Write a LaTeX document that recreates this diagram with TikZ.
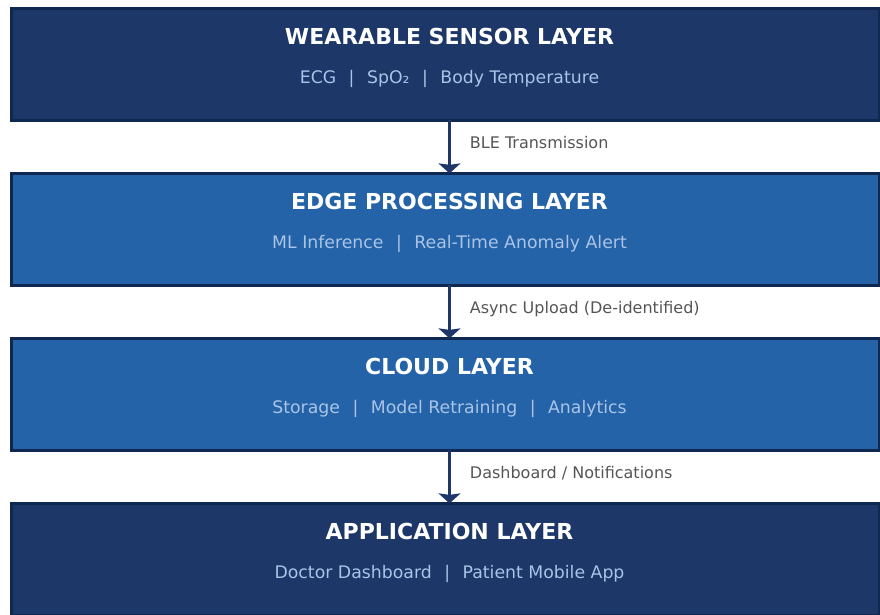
\documentclass[tikz,border=0pt]{standalone}
\usepackage{fontspec}
\setmainfont{DejaVu Sans}
\usetikzlibrary{arrows.meta,positioning}
\definecolor{navy}{HTML}{1C3768}
\definecolor{midblue}{HTML}{2563A8}
\definecolor{rim}{HTML}{10284F}
\definecolor{subtxt}{HTML}{A9C4E6}
\definecolor{lbltxt}{HTML}{555555}
\tikzset{
  layer/.style={draw=rim,line width=2.4pt,rectangle,minimum width=868pt,minimum height=112pt,outer sep=0pt,inner sep=0pt},
  ltitle/.style={anchor=base,text=white,font=\fontsize{22}{26}\selectfont\bfseries},
  lsub/.style={anchor=base,text=subtxt,font=\fontsize{17.3}{20}\selectfont},
  flow/.style={-{Stealth[length=10pt,width=22pt,inset=1.5pt]},line width=2.2pt,draw=navy},
  tag/.style={anchor=base west,text=lbltxt,font=\fontsize{16}{19}\selectfont,xshift=16pt,yshift=-1.5pt}
}
\newcommand{\lsep}{\hspace{12.5pt}|\hspace{12.5pt}}

\begin{document}
\begin{tikzpicture}[x=1pt,y=-1pt]
\useasboundingbox (0,0) rectangle (880,614);
\coordinate (axis) at (449.5,0);

\node[layer,fill=navy] (sens) at (445.5,64.35) {};
\node[layer,fill=midblue,below=53pt of sens] (edge) {};
\node[layer,fill=midblue,below=53pt of edge] (cloud) {};
\node[layer,fill=navy,below=53pt of cloud] (app) {};

\node[ltitle] (sens-t) at ([yshift=20.3pt]sens.center -| axis) {WEARABLE SENSOR LAYER};
\node[lsub] (sens-s) at ([yshift=-19pt]sens.center -| axis) {ECG\lsep SpO₂\lsep Body Temperature};

\node[ltitle] (edge-t) at ([yshift=20.3pt]edge.center -| axis) {EDGE PROCESSING LAYER};
\node[lsub] (edge-s) at ([yshift=-19pt]edge.center -| axis) {ML Inference\lsep Real-Time Anomaly Alert};

\node[ltitle] (cloud-t) at ([yshift=20.3pt]cloud.center -| axis) {CLOUD LAYER};
\node[lsub] (cloud-s) at ([yshift=-19pt]cloud.center -| axis) {Storage\lsep Model Retraining\lsep Analytics};

\node[ltitle] (app-t) at ([yshift=20.3pt]app.center -| axis) {APPLICATION LAYER};
\node[lsub] (app-s) at ([yshift=-19pt]app.center -| axis) {Doctor Dashboard\lsep Patient Mobile App};

\draw[flow] (sens.south -| axis) -- node[tag] (ble) {BLE Transmission} (edge.north -| axis);
\draw[flow] (edge.south -| axis) -- node[tag] (upl) {Async Upload (De-identified)} (cloud.north -| axis);
\draw[flow] (cloud.south -| axis) -- node[tag] (dash) {Dashboard / Notifications} (app.north -| axis);

\end{tikzpicture}
\end{document}
